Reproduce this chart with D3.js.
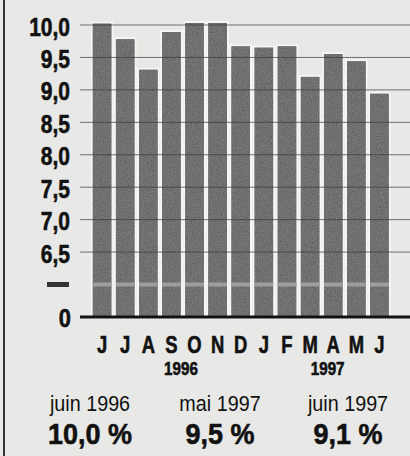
<!DOCTYPE html>
<html>
<head>
<meta charset="utf-8">
<script src="https://cdn.jsdelivr.net/npm/d3@7"></script>
<style>
  body { margin: 0; background: #e8e8e6; }
  text { font-family: "Liberation Sans", Arial, sans-serif; fill: #111; }
</style>
</head>
<body>
<div id="chart"></div>
<script>
// monthly unemployment rate, June 1996 - June 1997
const months = ["J", "J", "A", "S", "O", "N", "D", "J", "F", "M", "A", "M", "J"];
const rates = [10.02, 9.78, 9.31, 9.89, 10.03, 10.03, 9.67, 9.65, 9.67, 9.2, 9.55, 9.44, 8.94];
const yTicks = [6.5, 7, 7.5, 8, 8.5, 9, 9.5, 10];
const years = ["1996", "1997"];
const keyLabels = ["juin 1996", "mai 1997", "juin 1997"];
const keyValues = ["10,0 %", "9,5 %", "9,1 %"];

const width = 410, height = 456;
const fmt = v => d3.format(".1f")(v).replace(".", ",");

const svg = d3.select("#chart").append("svg")
    .attr("width", width)
    .attr("height", height);

// grain for the printed bars
const defs = svg.append("defs");
const grain = defs.append("filter").attr("id", "grain")
    .attr("x", 0).attr("y", 0).attr("width", 1).attr("height", 1);
grain.append("feTurbulence")
    .attr("type", "fractalNoise").attr("baseFrequency", 0.8)
    .attr("numOctaves", 2).attr("seed", 3).attr("result", "noise");
grain.append("feColorMatrix").attr("in", "noise").attr("type", "matrix")
    .attr("values", "0 0 0 0 0.35  0 0 0 0 0.35  0 0 0 0 0.35  0.6 0 0 0 -0.05")
    .attr("result", "dots");
grain.append("feComposite").attr("in", "dots").attr("in2", "SourceGraphic")
    .attr("operator", "atop").attr("result", "mix");
grain.append("feMerge").call(m => {
  m.append("feMergeNode").attr("in", "SourceGraphic");
  m.append("feMergeNode").attr("in", "mix");
});

svg.append("rect")
    .attr("width", width).attr("height", height)
    .attr("fill", "#e8e8e6");

// left border rule
svg.append("line")
    .attr("x1", 4).attr("x2", 4).attr("y1", 0).attr("y2", height)
    .attr("stroke", "#333").attr("stroke-width", 2);

// broken scale: 0 at the baseline, then 6..10
const y = d3.scaleLinear()
    .domain([0, 6, 10])
    .range([317, 284.5, 25]);

const x = d3.scaleBand()
    .domain(d3.range(months.length))
    .range([90.5, 391])
    .paddingInner(0.2)
    .paddingOuter(0.1);

// narrow type: plain Liberation Sans squeezed horizontally
function label(g, tx, ty, str, size, sx, bold, anchor) {
  const t = g.append("text")
      .attr("transform", `translate(${tx},${ty}) scale(${sx},1)`)
      .attr("text-anchor", anchor || "middle")
      .attr("font-size", size)
      .attr("font-weight", bold ? "bold" : "normal")
      .text(str);
  if (bold) t.attr("stroke", "#111").attr("stroke-width", 0.6);
}

// bars with white gaps
svg.append("g").selectAll("rect")
  .data(rates)
  .join("rect")
    .attr("x", (d, i) => x(i))
    .attr("y", d => y(d))
    .attr("width", x.bandwidth())
    .attr("height", d => y(0) - y(d))
    .attr("fill", "#595959")
    .attr("stroke", "#f6f6f4")
    .attr("stroke-width", 4);

svg.append("g").selectAll("rect")
  .data(rates)
  .join("rect")
    .attr("x", (d, i) => x(i))
    .attr("y", d => y(d))
    .attr("width", x.bandwidth())
    .attr("height", d => y(0) - y(d))
    .attr("fill", "#595959")
    .attr("filter", "url(#grain)");

// light band where the scale is broken
svg.append("g").selectAll("rect")
  .data(rates)
  .join("rect")
    .attr("x", (d, i) => x(i))
    .attr("y", y(6) - 2)
    .attr("width", x.bandwidth())
    .attr("height", 4)
    .attr("fill", "#9e9e9e");

// gridlines
svg.append("g").selectAll("line")
  .data(yTicks)
  .join("line")
    .attr("x1", 80).attr("x2", width)
    .attr("y1", d => y(d)).attr("y2", d => y(d))
    .attr("stroke", "#3a3a3a")
    .attr("stroke-opacity", 0.7)
    .attr("stroke-width", 1);

// baseline
svg.append("line")
    .attr("x1", 80).attr("x2", width)
    .attr("y1", y(0)).attr("y2", y(0))
    .attr("stroke", "#111").attr("stroke-width", 3);

// y labels
const yl = svg.append("g");
yTicks.forEach(d => label(yl, 70, y(d) + 10.5, fmt(d), 25, 0.84, true, "end"));
label(yl, 71, y(0) + 10, "0", 26, 0.84, true, "end");

// break marker
svg.append("rect")
    .attr("x", 47).attr("y", y(6) - 2.5)
    .attr("width", 22).attr("height", 5)
    .attr("fill", "#333");

// month letters
const ml = svg.append("g");
months.forEach((m, i) => label(ml, x(i) + x.bandwidth() / 2, 353, m, 23, 0.8, true));

// years under the months
const mid = (a, b) => (x(a) + x(b) + x.bandwidth()) / 2;
const yg = svg.append("g");
label(yg, mid(3, 4) - 2, 375, years[0], 19, 0.8, true);
label(yg, mid(9, 10) + 6, 375, years[1], 19, 0.8, true);

// key figures
const keyX = [90, 220, 348];
const kg = svg.append("g");
keyLabels.forEach((s, i) => label(kg, keyX[i], 411, s, 21.5, 0.92, false));
keyValues.forEach((s, i) => label(kg, keyX[i], 443.5, s, 30, 0.9, true));
</script>
</body>
</html>
